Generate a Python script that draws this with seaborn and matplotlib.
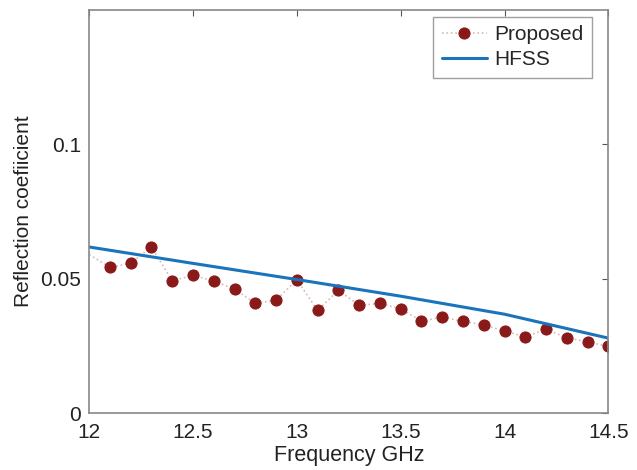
import numpy as np
import pandas as pd
import matplotlib
matplotlib.use("Agg")
import matplotlib.pyplot as plt
import seaborn as sns

# Proposed model samples (first point has no marker in the reference)
freq_proposed = [12.0, 12.1, 12.2, 12.3, 12.4, 12.5, 12.6, 12.7, 12.8, 12.9, 13.0,
                 13.1, 13.2, 13.3, 13.4, 13.5, 13.6, 13.7, 13.8, 13.9, 14.0,
                 14.1, 14.2, 14.3, 14.4, 14.5]
refl_proposed = [0.0590, 0.0542, 0.0558, 0.0618, 0.0492, 0.0513, 0.0491, 0.0462,
                 0.0408, 0.0420, 0.0496, 0.0382, 0.0457, 0.0401, 0.0408, 0.0388,
                 0.0342, 0.0357, 0.0341, 0.0328, 0.0305, 0.0284, 0.0312, 0.0280,
                 0.0265, 0.0248]

# HFSS simulation
freq_hfss = [12.0, 12.5, 13.0, 13.5, 14.0, 14.5]
refl_hfss = [0.0618, 0.0557, 0.0497, 0.0435, 0.0368, 0.0279]

x_ticks = [12, 12.5, 13, 13.5, 14, 14.5]
x_ticklabels = ["12", "12.5", "13", "13.5", "14", "14.5"]
y_ticks = [0, 0.05, 0.1]
y_ticklabels = ["0", "0.05", "0.1"]

sns.set_style("white")
plt.rcParams["font.family"] = ["Liberation Sans", "DejaVu Sans"]

df_prop = pd.DataFrame({"f": freq_proposed, "r": refl_proposed})
df_hfss = pd.DataFrame({"f": freq_hfss, "r": refl_hfss})

fig = plt.figure(figsize=(6.37, 4.70), dpi=100)
ax = fig.add_axes([0.140, 0.121, 0.815, 0.858])

sns.lineplot(data=df_prop, x="f", y="r", ax=ax, color="#d9b8b8", linestyle=":",
             linewidth=1.2, marker="o", markersize=8, markerfacecolor="#8a1a1a",
             markeredgecolor="#8a1a1a", markevery=list(range(1, len(freq_proposed))),
             label="Proposed")
sns.lineplot(data=df_hfss, x="f", y="r", ax=ax, color="#1a74bb", linewidth=2.2,
             label="HFSS")

ax.set_xlim(12, 14.5)
ax.set_ylim(0, 0.15)
ax.set_xticks(x_ticks)
ax.set_xticklabels(x_ticklabels)
ax.set_yticks(y_ticks)
ax.set_yticklabels(y_ticklabels)
ax.tick_params(direction="in", length=4, width=0.8, color="#555555",
               labelsize=15, labelcolor="#222222", top=True, right=True)
ax.tick_params(axis="x", pad=7)
ax.tick_params(axis="y", pad=6)
for s in ax.spines.values():
    s.set_color("#888888")
    s.set_linewidth(1.2)

ax.set_xlabel("Frequency GHz", fontsize=15.5, color="#222222", labelpad=2)
ax.set_ylabel("Reflection coefiicient", fontsize=15, color="#222222", labelpad=5)

leg = ax.legend(loc="upper right", bbox_to_anchor=(0.969, 0.983), fontsize=15,
                frameon=True, fancybox=False, edgecolor="#888888",
                handlelength=2.2, handletextpad=0.35, borderpad=0.4,
                labelspacing=0.3, borderaxespad=0)
leg.get_frame().set_linewidth(1.0)

fig.savefig("out.png", dpi=100)
